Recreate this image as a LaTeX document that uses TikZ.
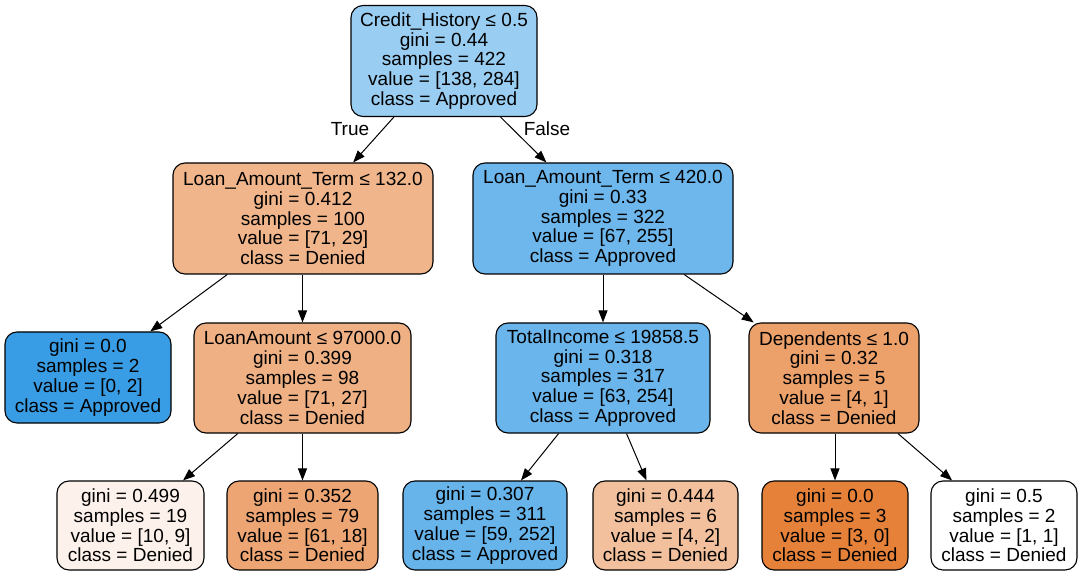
\documentclass[tikz,border=0pt]{standalone}
\usepackage{fontspec}
\setmainfont{Liberation Sans}
\usetikzlibrary{arrows.meta}
\definecolor{c0}{RGB}{153,205,242}
\definecolor{c1}{RGB}{240,181,138}
\definecolor{c2}{RGB}{109,183,236}
\definecolor{c3}{RGB}{57,157,229}
\definecolor{c4}{RGB}{239,177,132}
\definecolor{c5}{RGB}{106,181,235}
\definecolor{c6}{RGB}{236,161,107}
\definecolor{c7}{RGB}{253,242,235}
\definecolor{c8}{RGB}{237,166,115}
\definecolor{c9}{RGB}{103,180,235}
\definecolor{c10}{RGB}{242,192,156}
\definecolor{c11}{RGB}{229,129,57}
\tikzset{
  tnode/.style={draw=black, line width=1.1pt, rounded corners=12pt, inner sep=0pt,
    align=center, font=\fontsize{19}{19.8}\selectfont, text=black},
  edge/.style={line width=1pt, -{Triangle[length=12pt,width=9pt]}},
  elabel/.style={font=\fontsize{19}{19.8}\selectfont}
}
\begin{document}
\begin{tikzpicture}[x=1pt,y=-1pt]
\useasboundingbox (0,0) rectangle (1082,577);
\node[tnode, fill=c0, minimum width=186pt, minimum height=111pt] (root) at (444,61)
  {Credit\_History ≤ 0.5\\gini = 0.44\\samples = 422\\value = [138, 284]\\class = Approved};
\node[tnode, fill=c1, minimum width=260pt, minimum height=111pt] (l1) at (303,218.5)
  {Loan\_Amount\_Term ≤ 132.0\\gini = 0.412\\samples = 100\\value = [71, 29]\\class = Denied};
\node[tnode, fill=c2, minimum width=260pt, minimum height=111pt] (r1) at (603,218.5)
  {Loan\_Amount\_Term ≤ 420.0\\gini = 0.33\\samples = 322\\value = [67, 255]\\class = Approved};
\node[tnode, fill=c3, minimum width=166pt, minimum height=91pt] (la) at (88,377.5)
  {gini = 0.0\\samples = 2\\value = [0, 2]\\class = Approved};
\node[tnode, fill=c4, minimum width=217pt, minimum height=110pt] (lb) at (302.5,378)
  {LoanAmount ≤ 97000.0\\gini = 0.399\\samples = 98\\value = [71, 27]\\class = Denied};
\node[tnode, fill=c5, minimum width=214pt, minimum height=110pt] (ra) at (603,378)
  {TotalIncome ≤ 19858.5\\gini = 0.318\\samples = 317\\value = [63, 254]\\class = Approved};
\node[tnode, fill=c6, minimum width=170pt, minimum height=110pt] (rb) at (834,378)
  {Dependents ≤ 1.0\\gini = 0.32\\samples = 5\\value = [4, 1]\\class = Denied};
\node[tnode, fill=c7, minimum width=147pt, minimum height=89pt] (b1) at (130.5,525.5)
  {gini = 0.499\\samples = 19\\value = [10, 9]\\class = Denied};
\node[tnode, fill=c8, minimum width=151pt, minimum height=89pt] (b2) at (302.5,525.5)
  {gini = 0.352\\samples = 79\\value = [61, 18]\\class = Denied};
\node[tnode, fill=c9, minimum width=164pt, minimum height=89pt] (b3) at (485,525.5)
  {gini = 0.307\\samples = 311\\value = [59, 252]\\class = Approved};
\node[tnode, fill=c10, minimum width=145pt, minimum height=89pt] (b4) at (665.5,525.5)
  {gini = 0.444\\samples = 6\\value = [4, 2]\\class = Denied};
\node[tnode, fill=c11, minimum width=146pt, minimum height=89pt] (b5) at (835,525.5)
  {gini = 0.0\\samples = 3\\value = [3, 0]\\class = Denied};
\node[tnode, fill=white, minimum width=146pt, minimum height=89pt] (b6) at (1004,525.5)
  {gini = 0.5\\samples = 2\\value = [1, 1]\\class = Denied};
\draw[edge] (root) -- (l1);
\draw[edge] (root) -- (r1);
\node[elabel] (tl) at (350,129) {True};
\node[elabel] (fl) at (547,129) {False};
\draw[edge] (l1) -- (la);
\draw[edge] (l1.south -| lb.north) -- (lb.north);
\draw[edge] (r1) -- (ra);
\draw[edge] (r1) -- (rb);
\draw[edge] (lb) -- (b1);
\draw[edge] (lb) -- (b2);
\draw[edge] (ra) -- (b3);
\draw[edge] (ra) -- (b4);
\draw[edge] (rb.south -| b5.north) -- (b5.north);
\draw[edge] (rb) -- (b6);
\end{tikzpicture}
\end{document}
